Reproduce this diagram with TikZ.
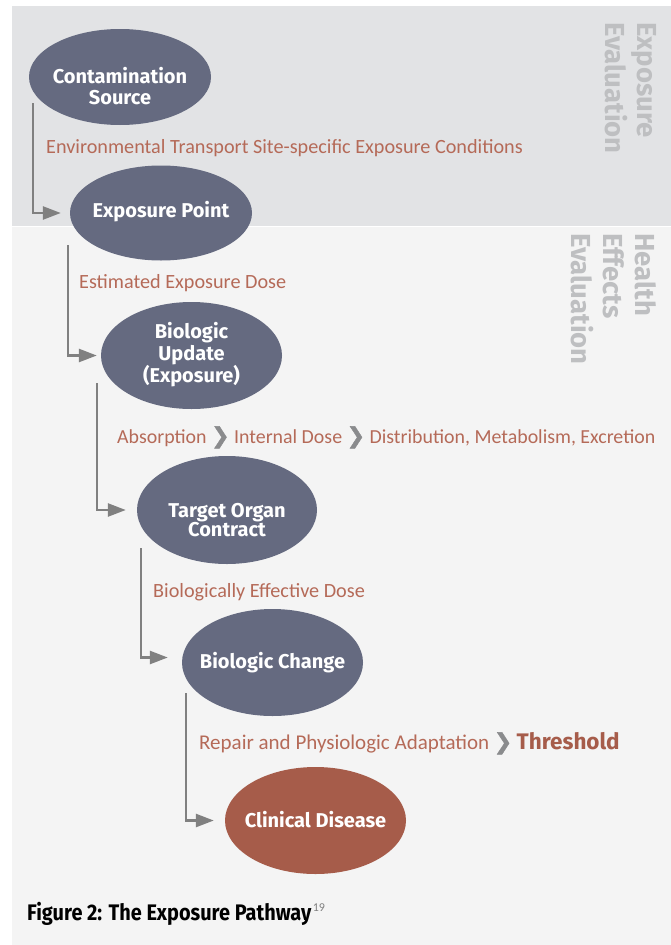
\documentclass[tikz,border=0pt]{standalone}
\usepackage{fontspec}
\usetikzlibrary{shapes.geometric,arrows.meta,calc}
\setmainfont{Carlito}
\newfontfamily\nodefont{Fira Sans}
\newfontfamily\capfont{Fira Sans}[FakeStretch=0.885]
\newfontfamily\chevfont{DejaVu Sans}[FakeBold=2]
\definecolor{toppanel}{HTML}{E2E3E5}
\definecolor{lowpanel}{HTML}{F4F4F4}
\definecolor{bubblecol}{HTML}{656A80}
\definecolor{diseasecol}{HTML}{A65C4A}
\definecolor{labelcol}{HTML}{B56A58}
\definecolor{conncol}{HTML}{808080}
\definecolor{sidegray}{HTML}{BEBFC1}
\definecolor{chevgray}{HTML}{8A8B8D}
\newcommand{\mychev}{\kern4.5pt{\color{chevgray}\chevfont\fontsize{22}{24}\selectfont ❯}\kern4.5pt}
\tikzset{
  bubble/.style={ellipse, fill=bubblecol, draw=none, inner sep=0pt},
  btext/.style={text=white, align=center, inner sep=0pt, font=\nodefont\bfseries\fontsize{20}{21}\selectfont},
  lbl/.style={anchor=base west, inner sep=0pt, text=labelcol, font=\fontsize{20.2}{24}\selectfont},
  conn/.style={draw=conncol, line width=2.6pt, -{Triangle[length=18pt,width=13pt]}},
  side/.style={rotate=-90, anchor=north west, align=left, inner sep=0pt, text=sidegray, font=\nodefont\bfseries\fontsize{27.5}{32}\selectfont}
}
\begin{document}
\begin{tikzpicture}[x=1pt,y=-1pt]
\useasboundingbox (0,0) rectangle (671,945);
\fill[white] (0,0) rectangle (671,945);
\fill[toppanel] (12,6) rectangle (671,225.5);
\fill[lowpanel] (12,226.5) rectangle (671,945);

% side labels
\node[side] (sideA) at (657,22) {Exposure\\Evaluation};
\node[side] (sideB) at (657,233) {Health\\Effects\\Evaluation};

% ellipses
\node[bubble, minimum width=182pt, minimum height=96pt] (e1) at (120,77) {};
\node[bubble, minimum width=182pt, minimum height=95pt] (e2) at (161,213) {};
\node[bubble, minimum width=181pt, minimum height=107pt] (e3) at (191.5,355.5) {};
\node[bubble, minimum width=180pt, minimum height=108pt] (e4) at (227,510) {};
\node[bubble, minimum width=181pt, minimum height=107pt] (e5) at (272.5,662.5) {};
\node[bubble, fill=diseasecol, minimum width=181pt, minimum height=107pt] (e6) at (315.5,820.5) {};

% ellipse texts
\node[btext] (t1) at (120,86) {Contamination\\Source};
\node[btext] (t2) at (161,212) {Exposure Point};
\node[btext, font=\nodefont\bfseries\fontsize{20}{21.5}\selectfont] (t3) at (191.5,355) {Biologic\\Update\\(Exposure)};
\node[btext, font=\nodefont\bfseries\fontsize{20}{17}\selectfont] (t4) at (227,520) {Target Organ\\Contract};
\node[btext] (t5) at (272.5,663) {Biologic Change};
\node[btext] (t6) at (315.5,820) {Clinical Disease};

% labels
\node[lbl] (l1) at (46,153) {Environmental Transport Site-specific Exposure Conditions};
\node[lbl] (l2) at (79,288) {Estimated Exposure Dose};
\node[lbl, font=\fontsize{19.9}{24}\selectfont] (l3) at (117,443) {Absorption\mychev{}Internal Dose\mychev{}Distribution, Metabolism, Excretion};
\node[lbl] (l4) at (153,597) {Biologically Effective Dose};
\node[lbl, font=\fontsize{21}{24}\selectfont] (l5) at (199,749) {Repair and Physiologic Adaptation\mychev{}{\color{diseasecol}\nodefont\bfseries\fontsize{22.5}{24}\selectfont Threshold}};

% connectors
\draw[conn] ($(e1.center)+(-87,26)$) |- ($(e2.west)+(-9,0)$);
\draw[conn] ($(e2.center)+(-93,32)$) |- ($(e3.west)+(-4,0)$);
\draw[conn] ($(e3.center)+(-94.5,27.5)$) |- ($(e4.west)+(-11,0)$);
\draw[conn] ($(e4.center)+(-86,38)$) |- ($(e5.west)+(-14,-5)$);
\draw[conn] ($(e5.center)+(-86.5,30.5)$) |- ($(e6.west)+(-11,0)$);

% caption
\node[anchor=base west, inner sep=0pt, font=\capfont\bfseries\fontsize{22.5}{26}\selectfont] (cap) at (27,920) {Figure 2: The Exposure Pathway\hspace{1.5pt}\raisebox{9pt}{\rmfamily\mdseries\fontsize{12}{12}\selectfont\color{gray}19}};
\end{tikzpicture}
\end{document}
